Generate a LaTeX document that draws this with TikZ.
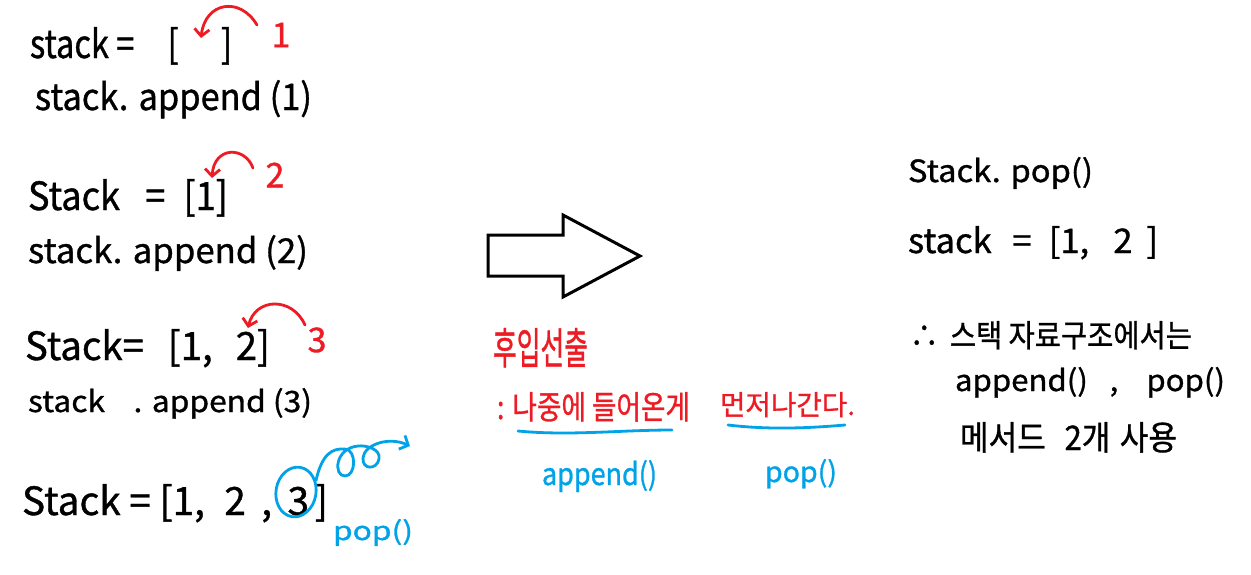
\documentclass[tikz,border=0pt]{standalone}
\usepackage{fontspec}
\usepackage{graphicx}
\newfontfamily\kr[FakeBold=1]{Noto Sans CJK KR}
\usetikzlibrary{arrows.meta,shapes.geometric}
\definecolor{hred}{RGB}{237,28,36}
\definecolor{hblue}{RGB}{0,162,232}
\newcommand{\hw}[3]{\resizebox{#1pt}{#2pt}{#3}}
\begin{document}
\begin{tikzpicture}[x=1pt,y=-1pt,
  txt/.style={anchor=base west,inner sep=0pt,outer sep=0pt,font=\kr\fontsize{20}{20}\selectfont},
  redtxt/.style={txt,text=hred},
  bluetxt/.style={txt,text=hblue},
  numtxt/.style={anchor=center,inner sep=0pt,text=hred,font=\kr\fontsize{34}{34}\selectfont},
  redarr/.style={draw=hred,line width=2.8pt,line cap=round,-{Straight Barb[length=7pt,width=15pt]}},
  bluearr/.style={draw=hblue,line width=2.8pt,line cap=round,-{Straight Barb[length=7pt,width=15pt]}},
  blueline/.style={draw=hblue,line width=2.8pt,line cap=round},
  bigarrow/.style={draw=black,line width=3pt,line join=miter}]
\fill[white] (0,0) rectangle (1251,574);
\useasboundingbox (0,0) rectangle (1251,574);

% left column
\node[txt] (l1) at (30,58) {\hw{202}{31}{stack = \hspace{0.8em}[\hspace{1.3em}]}};
\node[txt] (l2) at (35,110) {\hw{277}{30}{stack. append (1)}};
\node[txt] (l3) at (28,210) {\hw{200}{31}{Stack\hspace{0.7em}=\hspace{0.5em}[1]}};
\node[txt] (l4) at (28,263) {\hw{280}{28}{stack. append (2)}};
\node[txt] (l5) at (25,360) {\hw{245}{31}{Stack= \hspace{0.4em}[1,\hspace{0.6em}2]}};
\node[txt] (l6) at (28,412) {\hw{284}{24}{stack\hspace{0.9em}. append (3)}};
\node[txt] (l7) at (22,515) {\hw{306}{31}{Stack = [1,\hspace{0.5em}2\hspace{0.4em},\hspace{0.4em}3\hspace{0.15em}]}};

% red numbers and arrows
\node[numtxt] (n1) at (281,35) {1};
\node[numtxt] (n2) at (275,175) {2};
\node[numtxt] (n3) at (317,340) {3};
\coordinate (t1) at (257,25);  \coordinate (h1) at (201,38);
\coordinate (t2) at (253,168); \coordinate (h2) at (212,178);
\coordinate (t3) at (305,325); \coordinate (h3) at (248,328);
\draw[redarr] (t1) .. controls (240,-4) and (205,2) .. (h1);
\draw[redarr] (t2) .. controls (245,146) and (214,146) .. (h2);
\draw[redarr] (t3) .. controls (292,296) and (255,298) .. (h3);

% blue circle around 3, loop arrow and pop()
\node[ellipse,draw=hblue,line width=2.8pt,minimum width=40pt,minimum height=50pt,rotate=-10,inner sep=0pt] (c3) at (296,492) {};
\coordinate (lp) at (410,446);
\draw[bluearr] (c3.40) .. controls (322,454) and (332,448) .. (345,449)
  .. controls (357,450) and (356,476) .. (345,476)
  .. controls (333,476) and (335,448) .. (358,446)
  .. controls (366,445) and (381,449) .. (379,459)
  .. controls (377,470) and (362,470) .. (363,458)
  .. controls (364,445) and (388,436) .. (lp);
\node[bluetxt] (p1) at (333,540) {\hw{80}{21}{pop()}};

% big outline arrow
\draw[bigarrow] (488,235) -- (563,235) -- (563,215) -- (640,256) -- (563,297) -- (563,276) -- (488,276) -- cycle;

% middle texts
\node[redtxt] (m1) at (493,364) {\hw{95}{36}{후입선출}};
\node[redtxt] (m2) at (497,419) {\hw{193}{27}{:\hspace{0.3em}나중에 들어온게}};
\node[redtxt] (m3) at (720,415) {\hw{135}{23}{먼저나간다.}};
\draw[blueline] (518,431) .. controls (570,436) and (620,430) .. (672,430);
\draw[blueline] (728,425) .. controls (770,430) and (810,428) .. (845,425);
\node[bluetxt] (m4) at (542,485) {\hw{115}{25}{append()}};
\node[bluetxt] (m5) at (765,482) {\hw{72}{23}{pop()}};

% right column
\node[txt] (r1) at (908,182) {\hw{185}{25}{Stack. pop()}};
\node[txt] (r2) at (908,253) {\hw{250}{27}{stack\hspace{0.6em}=\hspace{0.5em}[1,\hspace{0.7em}2\hspace{0.4em}]}};
\node[txt] (r3) at (910,347) {\hw{282}{26}{∴\hspace{0.4em}스택 자료구조에서는}};
\node[txt] (r4) at (955,391) {\hw{270}{24}{append()\hspace{0.7em},\hspace{0.9em}pop()}};
\node[txt] (r5) at (960,450) {\hw{217}{28}{메서드\hspace{0.6em}2개\hspace{0.3em}사용}};
\end{tikzpicture}
\end{document}
